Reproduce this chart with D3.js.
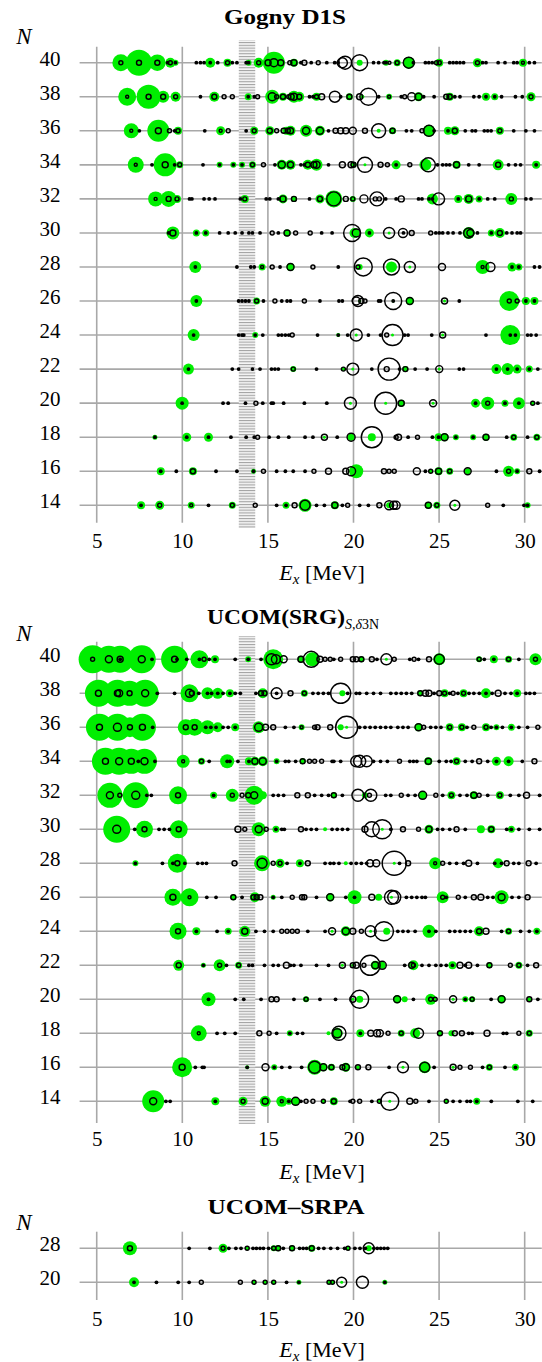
<!DOCTYPE html>
<html><head><meta charset="utf-8">
<script src="https://cdn.jsdelivr.net/npm/d3@7"></script>
<style>body{margin:0;background:#fff}svg{display:block}</style>
</head><body>
<svg id="c" width="542" height="1362"></svg>
<script>
// ---------- categories / ticks ----------
const xTicks = [5, 10, 15, 20, 25, 30];
const rowsMain = [40, 38, 36, 34, 32, 30, 28, 26, 24, 22, 20, 18, 16, 14];
const rowsSRPA = [28, 20];
// each state: [Ex (MeV), green radius, black ring radius (1 = dot)]
// ---------- Gogny D1S ----------
const gogny40 = [[6.41,8.5,2],[7.47,13,2.5],[8.54,8.3,2.5],[9.14,0,1],[9.3,5,2],[9.6,3,1],[10.82,0,1],[11.06,0,1],[11.27,0,1],[11.63,5,1],[12.07,0,1],[12.64,4,2],[12.92,0,1],[13.19,0,1],[13.73,0,1],[13.87,3,1],[14.46,5,2],[15.01,0,3],[15.35,11,4],[15.75,0,3],[16.28,0,2],[16.52,4,3],[16.93,0,1],[17.13,0,2.5],[17.53,0,1],[17.94,0,2],[18.44,0,1],[18.9,0,1],[19.1,0,1],[19.35,0,5],[19.51,0,6.5],[20.36,3,8],[21.17,0,1],[21.47,0,1],[21.78,0,1],[21.9,3,1],[22.1,0,1.5],[22.55,3.5,2],[23.23,6,5.5],[23.5,0,1],[24.2,0,1],[24.4,0,1],[24.6,0,1],[24.85,0,2],[25.01,4,2],[25.62,0,1],[25.82,0,1],[26.02,0,1],[26.22,0,1],[26.43,0,1],[27.24,4.5,2],[27.54,0,1],[27.74,0,1],[28.45,0,1],[28.85,0,1],[29.36,0,1],[29.56,0,1],[29.9,4,1.5],[30.27,0,1],[30.57,0,1]];
const gogny38 = [[6.78,9,1.5],[8.03,12,2.5],[8.88,6,2.5],[9.61,5,2],[11.06,0,1],[11.87,5,2.5],[12.44,0,2],[12.92,0,2],[13.85,3.5,1],[14.2,0,1],[14.4,0,2],[15.25,7,4],[15.51,0,2],[15.88,4,2.5],[16.22,0,2],[16.36,0,3],[16.52,6,3.5],[16.83,5,2.5],[17.43,0,1],[17.63,0,1],[17.84,4,2],[18.14,0,3],[18.91,0,5.5],[19.25,0,1],[19.76,3.5,2.5],[20.36,0,3],[20.52,2,0],[20.87,0,8.5],[21.47,0,1],[22.08,3,1.5],[22.79,0,1],[22.99,0,2],[23.4,0,4],[23.8,4.5,3.5],[24.1,0,1],[24.71,0,1],[25.42,0,2.5],[25.62,4,2.5],[25.92,0,1],[26.22,0,1],[27.03,0,1],[27.34,0,1],[27.74,4,1],[28.25,3.5,1],[28.65,0,1],[29.46,0,1],[29.86,0,1],[30.37,4.5,2]];
const gogny36 = [[7.02,7.5,1.5],[7.49,0,1],[8.6,11,3],[9.25,0,2],[9.55,0,1],[9.75,4,2],[11.31,0,1],[12.24,4.5,1.5],[12.68,0,2],[13.73,0,1],[14.2,4,2],[15.11,4.5,2.5],[15.51,0,2],[15.92,0,2.5],[16.08,4,0],[16.16,0,2.5],[16.32,5,3],[17.23,6,3.5],[18.04,5,3.5],[18.54,0,1],[18.95,0,2.5],[19.25,0,3],[19.55,0,3],[19.96,0,3.5],[20.67,0,2.5],[21.47,2,7],[22.28,3.5,2.5],[23.09,0,1],[23.4,0,1],[24,0,2],[24.41,6,5.5],[24.71,0,1],[25.52,4,1],[25.92,4.5,2.5],[26.53,0,1],[26.93,0,1],[27.13,0,1],[27.64,0,1],[27.84,0,1],[28.04,0,1],[28.55,4,2],[29.36,0,1],[30.07,0,1],[30.57,0,1]];
const gogny34 = [[7.28,8,1.5],[8.23,0,1],[9.0,11.5,3],[9.55,0,1],[9.85,3.5,2],[11.21,0,1],[12.18,3,1],[12.98,3,1],[13.49,3,1],[14.1,3.5,2],[14.74,0,2],[15.41,0,1],[15.81,5,3.5],[16.32,5,3],[16.93,0,1],[17.13,0,1],[17.33,5,2.5],[17.69,0,3],[17.84,6,3.5],[18.54,0,1],[19.35,0,3],[19.86,0,3],[20.0,3,2.5],[20.67,1.5,7.5],[21.58,0,2.5],[21.98,0,2],[22.49,4.5,1],[23.29,0,2],[24.2,6,0],[24.37,0,7],[24.91,0,1],[25.21,0,1],[25.42,0,1],[25.62,0,1],[26.02,4,3],[26.73,0,1],[27.34,0,1],[28.45,5.5,2.5],[29.06,0,1],[29.46,0,1],[29.76,0,1],[30.67,4,1]];
const gogny32 = [[8.44,7.5,1.5],[9.2,8,2.5],[9.69,4,2],[10.42,0,1],[10.56,0,1],[11.27,0,1],[11.57,0,1],[11.91,0,1],[13.39,0,1],[13.65,4,2],[14.9,0,1],[15.11,0,1],[15.61,0,1],[15.88,4.5,3],[16.52,3,2.5],[17.43,0,1],[18.04,4.5,2.5],[18.85,8.5,7],[19.55,0,2.5],[19.96,3,2],[20.61,0,4],[21.27,0,2],[21.37,0,7],[21.51,0,2],[21.88,0,1],[22.49,0,1],[22.79,0,3],[23.8,0,1],[24.0,0,1],[24.41,0,1],[24.61,5.5,1],[24.97,0,6],[26.12,4,1],[26.73,5,3],[27.34,3.5,1],[27.84,0,1],[28.25,0,1],[29.22,6,2],[30.07,0,1],[30.37,0,1]];
const gogny30 = [[9.2,0,1],[9.45,6.5,3],[10.82,3.5,1],[11.37,3.5,1],[12.18,0,1],[12.68,0,1],[13.09,0,1],[13.49,0,1],[13.89,0,1],[14.1,0,1],[14.54,0,1],[15.25,0,2],[15.61,0,1],[16.12,3.5,3],[16.62,0,2],[17.47,0,2],[18.14,0,1],[18.75,0,1],[19.92,0,8.5],[20.06,5,0],[20.16,0,4],[20.93,4.5,1],[22.08,1.5,5.5],[22.89,0,4.5],[22.92,0,1],[23.4,0,2.5],[24.51,0,2],[24.81,0,1],[25.01,0,1],[25.21,0,1],[25.52,0,1],[25.82,0,1],[26.22,0,1],[26.73,6,5],[26.83,0,3.5],[27.24,0,1],[28.05,3.5,1],[28.55,5,2.5],[28.95,0,1],[29.26,0,1],[29.56,0,1],[29.76,0,1]];
const gogny28 = [[10.76,6,1],[13.19,0,1],[14.0,0,1],[14.2,0,1],[14.66,3.5,1.5],[15.25,0,2],[15.71,0,1],[16.32,4,3.5],[17.63,0,2],[19.11,0,1],[20.26,0,2],[20.36,3,0],[20.57,0,9],[22.22,5.5,8],[23.29,1.5,5.5],[25.17,0,3.5],[27.54,7,1.5],[28.0,0,4.5],[29.26,4.5,1],[29.66,3.5,1],[30.57,0,1],[30.87,0,1]];
const gogny26 = [[10.82,6,1],[13.29,0,1],[13.49,0,1],[13.69,0,1],[13.89,0,1],[14.34,3.5,2],[14.74,0,1],[15.41,0,2],[15.81,0,1],[16.12,0,1],[16.32,0,1],[17.13,0,2],[18.04,0,1],[19.15,0,1],[19.35,0,1],[20.16,0,4],[20.26,0,5.5],[20.36,1.5,0],[20.46,0,2.5],[20.67,0,2],[21.47,0,1],[21.58,0,1],[22.32,1.5,8.5],[22.32,0,1],[23.29,4,3.5],[25.32,1.5,3],[26.18,0,1],[29.1,10,2],[29.56,0,2],[30.07,4,1],[30.57,4,1]];
const gogny24 = [[10.66,6,1],[13.29,0,1],[13.49,0,1],[13.59,0,1],[14.26,3,1],[14.7,0,1],[15.61,0,1],[15.81,0,1],[16.02,0,1],[16.22,0,1],[16.42,0,2],[17.9,0,1],[19.11,2,1],[19.66,0,1],[20.16,1.5,6],[20.87,0,1],[21.58,0,1],[21.94,0,2],[22.28,1.5,10.5],[22.99,0,1],[23.19,0,1],[24.57,0,1],[25.21,1.5,3],[27.74,0,1],[29.16,10,1],[29.46,0,1],[30.17,0,1],[30.37,0,1],[30.67,0,1]];
const gogny22 = [[10.36,5.5,1],[12.92,0,1],[13.29,0,1],[14.1,0,1],[14.54,0,1],[15.21,0,1],[15.41,0,1],[15.61,0,1],[16.48,3,2],[17.84,0,1],[19.41,2,2],[19.96,1.5,6],[21.07,0,1],[21.94,0,2.5],[22.08,0,11],[22.69,0,1],[23.03,3,2.5],[23.6,0,1],[24.3,0,1],[25.01,1.5,3.5],[26.18,0,1],[26.43,0,1],[28.35,5,1],[29.0,6,1],[29.56,4.5,1],[30.27,3.5,1],[30.77,0,1]];
const gogny20 = [[9.99,6.5,1],[12.38,0,1],[12.68,0,1],[13.69,0,1],[14.3,0,2],[14.7,0,1],[15.21,0,1],[15.31,0,1],[15.92,0,1],[17.13,0,1],[18.44,0,1],[19.82,1.5,6],[21.88,1.5,11],[22.79,3.5,3],[24.65,1.5,3.5],[27.13,4.5,1],[27.84,6.5,2],[28.85,3.5,1],[29.66,6,1],[30.47,2,2],[30.77,0,1]];
const gogny18 = [[8.4,2.5,1],[10.26,4.5,1],[11.53,4.5,1],[12.84,0,1],[13.73,0,1],[14.2,0,1],[14.4,0,2],[15.07,0,1],[15.61,0,1],[16.22,0,1],[17.17,0,1],[17.63,0,1],[18.3,1.5,3],[19.05,0,1],[19.86,3.5,4],[21.07,4,10.5],[22.49,0,2],[22.63,0,3],[23.19,0,1],[23.74,0,2],[24.61,0,1],[24.97,4,1],[25.32,4,3.5],[25.98,3,1],[26.99,3,1],[27.74,3.5,3],[28.95,0,1],[29.36,3.5,2],[30.17,0,1],[30.71,3.5,2]];
const gogny16 = [[8.74,4,1],[9.65,0,1],[10.62,4,2.5],[11.97,0,1],[13.19,0,1],[14.16,2.5,1],[14.74,0,2],[15.51,0,1],[16.02,0,1],[16.48,0,1],[17.17,0,1],[17.69,0,2],[18.54,0,3],[19.55,0,3],[19.86,0,4.5],[20.16,7,0],[21.78,0,2.5],[22.08,0,2],[22.38,0,2],[23.7,0,3.5],[24.2,0,1],[24.51,2,2],[24.97,4,3],[25.62,3.5,2],[26.67,3,3.5],[28.35,0,1],[29.06,5.5,2],[29.56,3,1],[30.27,0,2.5],[30.87,0,1]];
const gogny14 = [[7.59,4,1],[8.68,4.5,2],[10.52,3.5,1.5],[11.53,0,1],[12.92,3.5,2],[14.26,0,2],[15.51,0,1],[16.06,3.5,1],[16.56,0,2.5],[17.17,6.5,5],[17.84,0,1],[18.3,0,1],[18.91,4,3],[19.35,0,1],[19.66,0,2],[20.36,0,1],[20.87,0,1],[21.51,0,2.5],[22.08,3,4.5],[22.34,0,4],[22.49,0,4],[24.37,3.5,3],[24.87,3.5,2],[25.92,1.5,5],[27.84,0,2],[28.75,0,1],[29.96,0,1],[30.17,3,1]];
// ---------- UCOM(SRG) ----------
const srg40 = [[4.76,14,2],[5.71,13.5,3.5],[6.37,13.5,3],[6.37,0,1],[7.63,14,3.5],[8.23,0,1],[9.55,13.5,3],[9.69,0,1],[10.26,0,1],[11.0,9,1],[11.27,0,2],[11.57,0,1],[11.91,4,1],[13.09,0,1],[13.85,3,1],[14.6,0,1],[15.31,10,0],[15.21,0,5.5],[15.47,0,4.5],[15.92,0,3.5],[16.93,3.5,3],[17.59,7,0],[17.53,0,8],[18.04,0,3],[18.34,0,2],[18.64,0,2],[18.85,0,1],[19.25,0,2],[19.96,0,2.5],[20.16,0,2.5],[20.46,3,2.5],[21.07,0,2.5],[21.37,0,1],[21.92,1.5,5.5],[22.38,0,2],[23.29,0,1],[23.54,0,2],[23.8,0,1],[24.41,0,2.5],[25.01,6,5],[27.34,3,2],[27.64,0,1],[28.2,4,1],[29.06,3.5,2],[29.66,0,1],[30.63,6,2]];
const srg38 = [[5.1,13.5,3],[6.21,13.5,3],[6.31,0,3.5],[6.92,12.5,2.5],[7.83,13.5,3.5],[8.54,0,1],[9.55,0,1],[10.42,9,4],[10.56,0,2.5],[10.96,0,1],[11.47,6,1],[11.71,0,1],[12.07,5.5,1],[12.38,0,1],[12.78,4,1],[13.09,0,1],[13.39,0,1],[14.3,0,1],[14.7,5,0],[14.6,0,2.5],[14.8,0,2.5],[15.51,0,5.5],[15.51,0,1],[16.32,0,2.5],[17.13,3.5,2],[17.63,0,1],[17.94,0,1],[18.24,0,1],[18.54,0,1],[19.35,3,0],[19.25,0,10],[19.66,0,1],[20.16,0,1],[20.36,0,1],[20.77,0,1],[21.17,0,1],[21.58,0,1],[22.18,0,1],[22.49,0,1],[22.79,0,1],[23.09,0,1],[23.4,0,1],[23.9,3,2.5],[24.2,0,3],[24.41,0,3],[24.71,0,1],[25.01,0,2.5],[25.32,4,2],[25.62,0,1],[25.82,0,2],[26.1,0,1],[26.43,4,2],[26.75,0,1],[27.03,0,1],[27.35,0,1],[27.74,5,1],[28.1,0,1],[28.45,0,3],[28.85,0,1],[29.2,0,1],[29.56,4,1],[30.07,0,1],[30.3,0,1],[30.57,0,1]];
const srg36 = [[5.16,13.5,3],[6.21,13.5,4],[6.94,10,2.5],[7.67,13.5,3],[8.27,0,1],[10.2,8,2.5],[10.72,8.5,2.5],[11.37,0,1],[11.47,7,0],[11.67,0,1],[11.97,0,1],[12.07,5,0],[12.38,0,1],[12.68,0,1],[13.09,4,1],[14.46,6,4],[14.86,0,3],[15.31,0,2.5],[16.02,0,1],[16.52,0,1],[16.97,3,1.5],[17.73,0,2],[17.9,0,2.5],[18.64,0,2.5],[19.25,3,0],[19.6,1.5,11],[20.36,0,1],[20.67,0,1],[20.97,0,1],[21.27,0,1],[21.58,0,1],[21.88,0,1],[22.18,0,1],[22.59,0,1],[22.89,0,1],[23.19,0,1],[23.8,4,3.5],[24.1,0,2],[24.51,0,1],[24.81,0,1],[25.11,0,1],[25.62,4,2],[26.33,4,2],[26.63,0,1],[27.03,0,2],[27.74,4,2],[28.04,0,1],[28.35,3,1],[28.7,0,1],[29.22,3.5,1],[29.66,0,1],[30.17,0,1],[30.77,0,2]];
const srg34 = [[5.51,13.5,3],[6.31,13.5,3.5],[7.02,12.5,3],[7.43,0,1],[7.79,12.5,3.5],[8.4,0,1],[10.05,6.5,1.5],[11.12,3.5,2],[11.57,0,1],[12.62,7,1],[12.78,0,1],[13.25,0,1],[13.89,4,1],[14.24,4.5,3],[14.7,5,3.5],[15.51,3,1],[16.02,0,1],[16.22,0,1],[16.62,0,1],[17.03,3,2.5],[17.43,0,2],[17.73,0,2],[18.14,0,2],[18.75,0,1],[18.85,0,1],[19.25,0,1],[20.16,0,5.5],[20.36,0,6],[20.77,0,5.5],[21.17,0,1],[21.58,0,1],[21.98,0,1],[22.69,0,2],[23.29,0,1],[23.5,0,1],[23.7,0,1],[24.37,4,3],[25.01,0,1],[25.42,0,1],[25.7,0,1],[26.02,4,2],[26.53,0,1],[26.93,0,1],[27.34,0,2.5],[27.84,0,1],[28.35,4.5,1],[29.06,5,1],[29.86,0,1],[30.57,0,2.5]];
const srg32 = [[5.77,12.5,3.5],[6.35,0,2],[7.28,13,4],[7.93,0,1],[8.19,0,1],[9.75,9,2.5],[11.83,3.5,1],[12.92,6.5,2],[13.49,0,2],[13.85,0,2.5],[14.2,9.5,3.5],[14.7,4,0],[15.31,0,1],[15.61,0,1],[15.92,0,1],[16.72,0,2.5],[17.33,0,2.5],[17.73,0,1],[18.14,0,1],[18.54,0,1],[18.85,3,2.5],[19.35,0,1],[20.26,0,6],[20.67,3,0],[20.93,0,2],[21.01,0,6],[21.88,0,1],[22.18,0,1],[22.79,0,2],[23.19,0,1],[23.6,0,1],[24.04,4,4],[24.81,0,2],[25.21,0,1],[25.72,4,2],[26.22,0,1],[26.63,0,1],[27.03,4,3],[27.34,0,2],[27.84,0,1],[28.55,4,2],[29.16,0,1],[29.66,0,1],[30.11,0,3],[30.87,0,1]];
const srg30 = [[6.17,13.5,4],[7.22,0,1],[7.79,8.5,2.5],[8.64,0,1],[8.94,0,1],[9.25,0,1],[9.79,9,2.5],[13.25,0,3],[13.65,0,2],[14.46,7,3.5],[14.9,0,2],[15.47,3.5,1],[15.81,0,1],[15.96,0,1],[16.93,0,2.5],[17.23,0,1],[17.53,0,1],[17.84,0,1],[18.34,2,0],[18.75,0,1],[19.05,0,1],[19.35,0,1],[19.66,0,1],[20.67,0,3],[21.07,0,7.5],[21.68,1.5,9.5],[22.18,0,1],[22.89,0,2.5],[23.8,0,2],[24.41,4.5,3],[24.91,0,1],[25.21,0,1],[25.62,0,1],[26.02,0,2.5],[26.53,0,1],[27.44,4,0],[28.05,4,2.5],[28.95,0,1],[29.22,3.5,1],[29.66,0,1],[30.27,0,1],[30.87,0,1]];
const srg28 = [[7.26,3,1],[8.84,0,1],[9.45,0,1],[9.71,9.5,2.5],[10.15,0,1],[10.9,0,1],[11.17,0,1],[11.41,0,1],[13.05,0,2.5],[14.66,8,5],[15.31,0,2],[15.71,4.5,2],[16.12,0,1],[16.87,4,1],[17.33,0,2.5],[18.34,0,1],[18.64,0,1],[18.85,0,1],[19.15,0,1],[19.55,2,0],[19.86,0,1],[20.16,0,1],[20.46,0,1],[20.77,0,1],[20.97,0,3.5],[21.33,0,3.5],[22.38,1.5,12],[22.69,0,1],[23.19,0,2.5],[24.77,6,1.5],[25.21,0,2],[25.62,0,1],[26.02,0,1],[26.43,0,1],[26.73,0,3],[27.24,0,1],[28.25,0,1],[28.45,5,0],[28.65,0,1],[28.95,0,2.5],[29.36,0,1],[29.66,0,1],[30.23,0,2.5],[30.67,0,1]];
const srg26 = [[9.45,8.5,3],[10.42,9,1.5],[11.43,0,1],[11.97,0,1],[12.98,3,2.5],[13.49,0,1],[14.24,5,0],[14.16,0,2.5],[14.34,0,2.5],[14.56,0,2.5],[15.31,2.5,1],[15.81,0,1],[16.42,0,2],[16.99,0,2.5],[17.13,0,2.5],[17.84,0,1],[18.64,4,3.5],[19.55,0,1],[20.06,7,1],[21.07,0,3],[21.47,3.5,0],[22.22,1.5,7],[22.38,0,6.5],[23.09,0,1],[23.4,0,1],[23.7,0,1],[24.0,0,1],[24.2,0,1],[25.21,6,2],[25.42,0,1],[26.12,0,2],[26.53,0,1],[27.03,0,2.5],[27.44,0,3],[27.84,0,1],[28.15,0,1],[28.65,7,3.5],[29.26,0,1],[29.66,0,1],[30.17,0,2.5]];
const srg24 = [[9.75,8.5,2.5],[10.82,4,1],[12.03,0,1],[12.68,3.5,1],[13.65,5.5,3],[14.3,0,1],[14.8,0,1],[15.31,0,1],[15.81,0,2],[16.12,0,2],[16.42,0,2],[16.72,0,2],[17.33,0,1],[18.34,0,1],[18.75,1.5,3.5],[19.55,5,3.5],[19.96,0,3],[20.46,0,2],[21.0,1.5,5.5],[21.94,3.5,0],[21.78,0,9.5],[22.59,0,1],[22.89,0,1],[23.19,0,1],[23.6,0,1],[24.41,6.5,1],[24.81,0,1],[25.62,0,1],[25.92,0,1],[26.22,0,1],[26.53,0,1],[26.83,0,1],[27.34,5,2.5],[27.74,0,3],[28.65,0,1],[29.06,3.5,2],[29.76,0,1],[30.27,0,1],[30.71,3.5,1]];
const srg22 = [[9.79,5.5,2.5],[11.23,2.5,1],[12.18,6,2],[12.58,0,1],[13.29,3.5,2],[13.89,0,1],[14.1,0,1],[14.8,0,1],[15.31,0,1],[15.61,0,1],[16.08,0,3],[16.32,0,1],[16.52,0,1],[16.93,0,1],[17.84,0,1],[18.54,0,1],[19.35,1.5,3],[19.96,1.5,2.5],[20.16,0,3],[20.61,0,2],[20.97,0,10],[21.27,4.5,3.5],[21.68,3.5,4],[22.99,0,1],[23.4,0,3],[23.5,5,2],[24.0,0,1],[24.41,0,1],[24.81,0,1],[25.11,0,1],[25.42,0,1],[25.78,4,1],[26.22,0,3],[26.53,0,1],[26.73,0,3],[27.24,0,1],[27.94,3,2.5],[29.16,0,2],[29.66,3.5,2],[30.17,0,1],[30.67,0,2.5]];
const srg20 = [[11.53,7,1],[13.09,0,1],[13.59,0,1],[14.6,0,1],[15.21,0,2.5],[15.51,0,2.5],[16.52,0,1],[17.23,3,2],[18.04,0,1],[18.95,0,1],[19.96,1.5,3],[20.36,3.5,9],[22.55,4,3.5],[22.99,3,0],[23.5,0,1],[24.51,5.5,2],[24.77,0,2],[25.82,1.5,3.5],[26.53,3,1],[26.93,3,2],[28.04,0,1],[28.65,4,3.5],[30.27,2,2.5],[30.77,0,1]];
const srg18 = [[10.96,8,1.5],[12.03,0,1],[12.48,0,1],[13.09,0,1],[14.5,0,2.5],[15.07,0,2],[15.51,0,1],[16.28,3,1],[16.72,0,1],[17.03,0,1],[18.54,2,0],[19.05,5.5,4.5],[19.15,0,7],[20.4,4,1],[21.01,0,3],[21.37,0,3.5],[21.54,0,3.5],[22.02,0,2],[22.79,3.5,2],[23.6,5,0],[23.8,0,5],[25.05,2.5,2.5],[25.72,3,0],[25.92,0,2.5],[26.33,0,2.5],[26.73,0,1],[26.93,0,1],[27.8,0,3],[28.75,0,1],[28.95,0,1],[29.66,0,2],[30.27,3.5,2]];
const srg16 = [[9.99,10,3],[10.76,0,1],[11.17,0,1],[11.27,0,1],[13.79,2,1],[14.86,0,3.5],[15.37,3,1],[15.81,0,1],[16.28,0,1],[16.97,0,1],[17.73,7.5,6],[18.24,4,3.5],[18.71,3.5,2.5],[19.35,0,2.5],[19.55,4.5,3.5],[20.26,2,2.5],[20.87,0,2.5],[22.08,0,1],[22.89,1.5,5.5],[24.16,6,5],[24.71,0,1],[25.82,1.5,3],[26.22,0,2],[26.83,0,2],[27.54,0,1],[27.94,3.5,2],[28.85,0,1],[29.46,3.5,1]];
const srg14 = [[8.3,11,3.5],[9.04,0,1],[9.29,0,1],[11.93,4,1],[13.55,4.5,2],[14.84,5.5,3],[15.81,5.5,1.5],[16.22,3.5,1],[16.62,4,4],[16.93,0,1],[17.23,0,2],[17.63,0,2],[18.24,2,2],[18.85,4,2.5],[19.8,0,1],[19.96,0,2],[20.36,0,2],[21.07,0,1],[21.51,1.5,2],[22.12,1.5,9],[23.29,0,3],[23.64,0,2],[24.41,0,1],[25.42,2,2],[25.82,0,1],[26.22,0,1],[26.63,0,1],[26.83,0,1],[27.2,3.5,1],[28.05,0,1],[29.6,0,1],[30.47,0,1]];
// ---------- UCOM-SRPA ----------
const srpa28 = [[6.94,7,2.5],[10.4,0,1],[11.61,0,1],[12.38,4.5,2],[12.72,0,1],[13.13,0,1],[13.43,0,1],[13.79,2,2],[14.13,0,1],[14.33,0,1],[14.54,0,1],[14.74,0,1],[15.04,0,1],[15.34,3,2],[15.6,3,2.5],[15.9,0,1],[16.41,3,2.5],[16.85,0,1],[17.06,0,1],[17.26,0,1],[17.56,3.5,2.5],[17.96,0,1],[18.27,0,1],[18.67,0,1],[19.07,0,1],[19.48,0,1],[19.68,2,2],[20.08,0,1],[20.38,0,1],[20.69,0,1],[20.89,3,5.5],[21.19,0,1],[21.39,0,1],[21.59,0,1],[21.79,0,1],[22.0,0,1]];
const srpa20 = [[7.18,5,1],[8.49,0,1],[9.76,0,1],[10.4,0,1],[11.11,0,2],[13.39,0,2],[14.19,2,2],[14.84,2,2],[15.34,2,2],[16.09,0,1],[16.81,2.5,1],[18.57,2,2],[18.77,2,2],[19.31,1.5,5],[20.52,0,6],[21.83,2.5,1]];

const gognyData = [gogny40,gogny38,gogny36,gogny34,gogny32,gogny30,gogny28,gogny26,gogny24,gogny22,gogny20,gogny18,gogny16,gogny14];
const srgData = [srg40,srg38,srg36,srg34,srg32,srg30,srg28,srg26,srg24,srg22,srg20,srg18,srg16,srg14];
const srpaData = [srpa28, srpa20];

// ---------- drawing ----------
const GREEN = '#00ee00';
const FONT = "'Liberation Serif', 'DejaVu Serif', serif";
const svg = d3.select('#c');
const defs = svg.append('defs');
const pat = defs.append('pattern').attr('id','hatch').attr('patternUnits','userSpaceOnUse')
  .attr('width',20).attr('height',2.8);
pat.append('rect').attr('width',20).attr('height',2.8).attr('fill','#f6f6f6');
pat.append('rect').attr('width',20).attr('height',1.1).attr('fill','#a4a4a4');

const x = d3.scaleLinear().domain([4, 31]).range([79.6, 541.8]);

function panel(o) {
  const g = svg.append('g');
  g.selectAll('line.v').data(xTicks).join('line').attr('class','v')
    .attr('x1', d => x(d)).attr('x2', d => x(d))
    .attr('y1', o.gridTop).attr('y2', o.gridBottom)
    .attr('stroke', '#a8a8a8').attr('stroke-width', 1.6);
  g.selectAll('line.h').data(o.rows).join('line').attr('class','h')
    .attr('x1', x(4)).attr('x2', x(31))
    .attr('y1', d => o.y(d)).attr('y2', d => o.y(d))
    .attr('stroke', '#a8a8a8').attr('stroke-width', 1.6);
  if (o.band) {
    g.append('rect').attr('x', x(13.3)).attr('width', x(14.26) - x(13.3))
      .attr('y', o.band[0]).attr('height', o.band[1] - o.band[0])
      .attr('fill', 'url(#hatch)');
  }
  o.rows.forEach((n, i) => {
    const cy = o.y(n);
    const rg = g.append('g');
    rg.selectAll('circle.g').data(o.data[i].filter(d => d[1] > 0)).join('circle')
      .attr('class','g').attr('cx', d => x(d[0])).attr('cy', cy).attr('r', d => d[1])
      .attr('fill', GREEN);
    rg.selectAll('circle.b').data(o.data[i].filter(d => d[2] > 0)).join('circle')
      .attr('class','b').attr('cx', d => x(d[0])).attr('cy', cy)
      .attr('r', d => d[2] <= 1 ? 1.9 : d[2])
      .attr('fill', d => d[2] <= 1 ? '#000' : 'none')
      .attr('stroke', '#000').attr('stroke-width', d => d[2] <= 1 ? 0 : 1.45);
  });
  const ax = g.append('g').attr('transform', `translate(0,${o.tickBase})`)
    .call(d3.axisBottom(x).tickValues(xTicks).tickSize(0).tickPadding(0));
  ax.select('.domain').remove();
  ax.selectAll('text').attr('y', 0).attr('dy', 0)
    .attr('font-family', FONT).attr('font-size', 21).attr('fill', '#000');
  const ay = g.append('g').attr('transform', 'translate(60.5,0)')
    .call(d3.axisLeft(o.y).tickValues(o.rows).tickSize(0).tickPadding(0));
  ay.select('.domain').remove();
  ay.selectAll('text').attr('x', 0).attr('dy', 2.6)
    .attr('font-family', FONT).attr('font-size', 21).attr('fill', '#000');
  g.append('text').attr('x', 24).attr('y', o.nBase).attr('text-anchor','middle')
    .attr('font-family', FONT).attr('font-style','italic').attr('font-size', 23).text('N');
  const xl = g.append('text').attr('x', 322).attr('y', o.xlBase).attr('text-anchor','middle')
    .attr('font-family', FONT).attr('font-size', 22);
  xl.append('tspan').attr('font-style','italic').text('E');
  xl.append('tspan').attr('font-style','italic').attr('font-size', 15).attr('dy', 4).text('x');
  xl.append('tspan').attr('dy', -4).text('\u00a0[MeV]');
  o.title(g);
}

panel({
  rows: rowsMain, data: gognyData,
  y: d3.scaleLinear().domain([14, 40]).range([505.3, 62.7]),
  gridTop: 46.7, gridBottom: 522.7, band: [40, 528],
  tickBase: 548.3, xlBase: 579.5, nBase: 44,
  title: g => g.append('text').attr('x', 285).attr('y', 24).attr('text-anchor','middle')
    .attr('font-family', FONT).attr('font-weight','bold').attr('font-size', 21)
    .attr('textLength', 122).attr('lengthAdjust','spacingAndGlyphs').text('Gogny D1S')
});

panel({
  rows: rowsMain, data: srgData,
  y: d3.scaleLinear().domain([14, 40]).range([1101.3, 659.3]),
  gridTop: 641.7, gridBottom: 1123, band: [636, 1124],
  tickBase: 1145.7, xlBase: 1178.5, nBase: 641,
  title: g => {
    const t = g.append('text').attr('x', 207).attr('y', 624)
      .attr('font-family', FONT).attr('font-size', 21);
    t.append('tspan').attr('font-weight','bold').attr('textLength', 138)
      .attr('lengthAdjust','spacingAndGlyphs').text('UCOM(SRG)');
    t.append('tspan').attr('dy', 5).attr('font-size', 14).attr('font-style','italic').text('S,δ');
    t.append('tspan').attr('font-size', 14).text('3N');
  }
});

panel({
  rows: rowsSRPA, data: srpaData,
  y: d3.scalePoint().domain(rowsSRPA).range([1248.3, 1282.3]),
  gridTop: 1231.7, gridBottom: 1300, band: null,
  tickBase: 1325.7, xlBase: 1356.5, nBase: 1230,
  title: g => g.append('text').attr('x', 286).attr('y', 1214).attr('text-anchor','middle')
    .attr('font-family', FONT).attr('font-weight','bold').attr('font-size', 21)
    .attr('textLength', 157).attr('lengthAdjust','spacingAndGlyphs').text('UCOM–SRPA')
});
</script>
</body></html>
